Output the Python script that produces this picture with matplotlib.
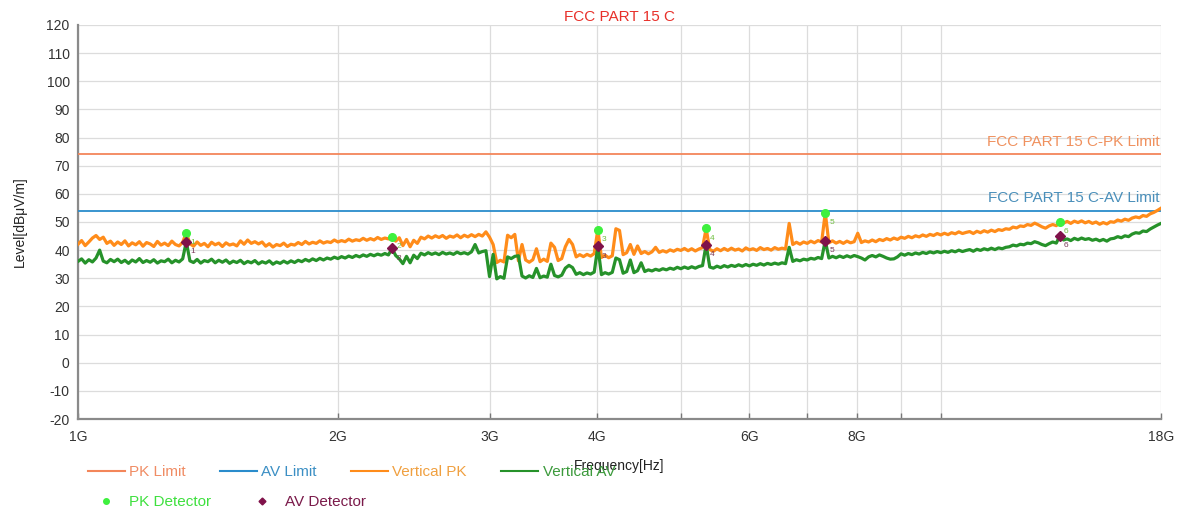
"""
FCC PART 15 C radiated emission sweep, 1 GHz - 18 GHz, vertical polarisation.
Peak / average traces with limit lines and detector readings.
Writes out.png
"""

import numpy as np
import matplotlib

matplotlib.use("Agg")
import matplotlib.pyplot as plt
from matplotlib.lines import Line2D

plt.rcParams["font.family"] = ["Liberation Sans", "DejaVu Sans"]
plt.rcParams["axes.unicode_minus"] = False

# ---- limits (dBuV/m) ----
F_START = 1e9
F_STOP = 18e9
PK_LIMIT = 74.0
AV_LIMIT = 54.0

# ---- sweep traces, 301 log-spaced points from 1 GHz to 18 GHz ----
N_POINTS = 301
vertical_pk = [
    42.1, 43.4, 41.6, 42.9, 44.3, 45.2, 43.8, 44.6, 42.4, 43.2,
    41.7, 42.9, 42.0, 43.3, 41.5, 42.6, 41.9, 43.0, 41.4, 42.7,
    42.2, 41.3, 43.1, 41.8, 42.5, 41.6, 43.2, 42.0, 41.5, 42.8,
    46.2, 42.3, 41.4, 42.9, 41.7, 42.4, 41.2, 42.8, 41.9, 42.5,
    41.3, 42.6, 41.8, 42.2, 41.5, 43.3, 42.1, 43.6, 42.4, 43.0,
    42.2, 42.9, 41.4, 42.3, 41.1, 42.0, 41.6, 42.5, 41.3, 42.1,
    41.8, 42.7, 42.0, 43.1, 42.2, 42.8, 42.4, 43.3, 42.5, 43.0,
    42.7, 43.6, 42.9, 43.4, 43.0, 43.9, 43.2, 43.7, 43.4, 44.2,
    43.5, 44.1, 43.6, 44.5, 43.8, 44.3, 44.0, 44.8, 43.2, 44.4,
    41.6, 43.8, 41.2, 43.5, 42.4, 44.6, 44.0, 45.0, 44.3, 45.1,
    44.5, 45.2, 44.2, 45.0, 44.6, 45.4, 44.4, 45.3, 44.7, 45.5,
    44.8, 45.6, 45.0, 46.5, 44.6, 42.0, 35.6, 36.4, 35.8, 45.3,
    44.4, 45.6, 36.2, 42.0, 36.5, 35.7, 36.6, 40.5, 35.9, 36.8,
    36.0, 42.5, 41.0, 36.3, 37.0, 41.2, 43.8, 42.0, 37.6, 38.4,
    37.7, 38.5, 37.9, 38.8, 47.3, 37.4, 38.2, 37.3, 38.0, 47.6,
    47.0, 38.4, 39.1, 42.0, 38.5, 41.5, 38.8, 39.5, 38.7, 39.4,
    41.0, 39.2, 39.8, 39.3, 40.1, 39.6, 40.3, 39.9, 40.6, 39.8,
    40.5, 39.7, 40.4, 40.9, 47.7, 40.2, 39.6, 40.5, 39.8, 40.6,
    39.9, 40.7, 40.0, 40.4, 39.7, 40.8, 40.1, 40.5, 39.9, 40.9,
    40.2, 40.6, 40.0, 40.9, 40.3, 40.7, 40.4, 49.5, 42.0, 42.8,
    42.1, 42.9, 42.4, 43.2, 42.6, 43.4, 42.9, 53.3, 42.6, 43.3,
    42.5, 43.1, 42.4, 43.2, 42.6, 43.0, 46.0, 42.7, 43.3, 42.9,
    43.6, 43.0, 43.8, 43.4, 44.1, 43.6, 44.3, 43.8, 44.6, 44.2,
    44.9, 44.4, 45.1, 44.7, 45.4, 44.9, 45.6, 45.2, 45.9, 45.4,
    46.0, 45.5, 46.2, 45.8, 46.5, 45.9, 46.3, 46.6, 45.9, 46.7,
    46.2, 46.9, 46.4, 47.1, 46.6, 47.3, 47.0, 47.6, 47.4, 48.2,
    47.9, 48.6, 48.4, 49.1, 48.8, 49.6, 49.0, 48.3, 47.8, 48.6,
    49.1, 48.7, 50.1, 49.6, 50.2, 49.5, 50.3, 49.8, 50.4, 49.7,
    50.2, 49.5, 50.0, 49.2, 49.8, 49.3, 50.1, 49.9, 50.7, 50.3,
    51.0, 50.6, 51.4, 51.8, 51.5, 52.3, 52.0, 52.9, 53.4, 54.1,
    54.9,
]
vertical_av = [
    36.0, 36.9, 35.4, 36.6, 35.8, 37.2, 40.0, 36.1, 35.5, 36.7,
    35.9, 36.8, 35.6, 36.4, 35.3, 36.5, 35.8, 37.0, 35.6, 36.3,
    35.7, 36.6, 35.4, 36.2, 35.9, 36.8, 35.5, 36.4, 35.8, 36.9,
    43.0, 36.2, 35.6, 36.7, 35.4, 36.3, 35.9, 36.8, 35.5, 36.4,
    35.7, 36.5, 35.3, 36.1, 35.6, 36.4, 35.2, 36.0, 35.5, 36.3,
    35.1, 35.9, 35.4, 36.2, 35.0, 35.8, 35.3, 36.1, 35.4, 36.2,
    35.6, 36.4, 35.9, 36.7, 36.1, 36.9, 36.3, 37.1, 36.5, 37.2,
    36.8, 37.5, 37.0, 37.7, 37.2, 37.9, 37.4, 38.1, 37.6, 38.3,
    37.8, 38.5, 38.0, 38.6, 38.2, 38.8, 38.3, 40.6, 38.1, 36.9,
    35.2, 37.8, 35.5, 38.2, 37.0, 38.9, 38.3, 39.1, 38.5, 39.0,
    38.4, 39.2, 38.6, 39.0, 38.5, 39.3, 38.7, 39.1, 38.6, 39.4,
    42.0, 39.0, 39.5, 39.8, 30.6, 38.5, 29.8, 30.6, 30.0, 37.6,
    37.0, 37.8, 38.0, 30.8, 30.1, 30.9, 30.3, 33.5, 30.2, 30.8,
    30.4, 35.0, 31.0, 30.5, 31.1, 33.6, 34.6, 33.8, 31.4, 32.0,
    31.3, 31.9, 31.5, 32.2, 41.3, 31.3, 32.0, 31.5, 32.1, 37.2,
    36.6, 31.8, 32.4, 36.5, 32.0, 32.7, 35.5, 32.4, 33.0, 32.6,
    33.2, 32.8, 33.4, 33.0, 33.6, 33.2, 33.9, 33.4, 34.0, 33.5,
    34.1, 33.6, 34.2, 34.5, 42.0, 34.0, 33.6, 34.3, 33.8, 34.5,
    34.0, 34.6, 34.2, 34.8, 34.3, 34.9, 34.4, 35.0, 34.6, 35.2,
    34.7, 35.3, 34.9, 35.4, 35.0, 35.5, 35.2, 41.0, 36.0, 36.6,
    36.2, 36.8, 36.5, 37.1, 36.8, 37.4, 37.0, 43.4, 37.2, 37.8,
    37.3, 37.9, 37.4, 38.0, 37.5, 38.1, 37.7, 37.2, 36.5, 37.6,
    38.1, 37.6, 38.3, 37.8, 37.2, 36.8, 36.9, 37.6, 38.7, 38.2,
    38.8, 38.4, 39.0, 38.6, 39.2, 38.8, 39.4, 39.0, 39.5, 39.1,
    39.6, 39.2, 39.8, 39.4, 40.0, 39.5, 39.9, 40.2, 39.6, 40.3,
    39.9, 40.5, 40.1, 40.7, 40.2, 40.8, 40.5, 41.0, 41.2, 41.8,
    41.5, 42.1, 41.9, 42.5, 42.3, 43.0, 42.6, 42.0, 41.6, 42.3,
    42.9, 42.5, 45.2, 43.6, 44.0, 43.4, 44.2, 43.7, 44.3, 43.8,
    44.1, 43.5, 43.9, 43.3, 43.8, 43.2, 44.0, 44.2, 44.8, 44.4,
    45.1, 44.8, 45.7, 46.2, 46.0, 46.8, 46.6, 47.5, 48.2, 48.9,
    49.5,
]

# ---- detector readings ----
marker_no = [1, 2, 3, 4, 5, 6]
marker_ghz = [1.335, 2.312, 4.005, 5.346, 7.346, 13.74]
pk_reading = [46.2, 44.8, 47.3, 47.7, 53.3, 50.1]
av_reading = [43.0, 40.6, 41.3, 42.0, 43.4, 45.2]

# ---- axes ticks ----
y_ticks = list(range(-20, 121, 10))
x_grid_ghz = [1, 2, 3, 4, 5, 6, 7, 8, 9, 10, 18]
x_label_ghz = {1: "1G", 2: "2G", 3: "3G", 4: "4G", 6: "6G", 8: "8G", 18: "18G"}

C_PK_LIM = "#f3865a"
C_AV_LIM = "#2a8ccc"
C_PK = "#ff8c1a"
C_AV = "#26922a"
C_PK_DET = "#3ef03e"
C_AV_DET = "#80124a"

freq = np.geomspace(F_START, F_STOP, N_POINTS)
mk_hz = np.array(marker_ghz) * 1e9

fig = plt.figure(figsize=(11.87, 5.14), dpi=100)
ax = fig.add_axes([0.0657, 0.1848, 0.9124, 0.7666])

ax.plot([F_START, F_STOP], [AV_LIMIT, AV_LIMIT], color=C_AV_LIM, lw=1.3, zorder=3)
ax.plot([F_START, F_STOP], [PK_LIMIT, PK_LIMIT], color=C_PK_LIM, lw=1.3, zorder=3)
ax.plot(freq, vertical_pk, color=C_PK, lw=2.3, zorder=4)
ax.plot(freq, vertical_av, color=C_AV, lw=2.3, zorder=5)

ax.plot(mk_hz, pk_reading, ls="none", marker="o", ms=5.5, color=C_PK_DET, zorder=7)
ax.plot(mk_hz, av_reading, ls="none", marker="D", ms=5, color=C_AV_DET, zorder=7)
for n, f, p, a in zip(marker_no, mk_hz, pk_reading, av_reading):
    ax.annotate(str(n), (f, p), xytext=(3, -8), textcoords="offset points",
                fontsize=6, color="#6fbf3f", zorder=8)
    ax.annotate(str(n), (f, a), xytext=(3, -8), textcoords="offset points",
                fontsize=6, color="#7a3a5a", zorder=8)

ax.annotate("FCC PART 15 C-PK Limit", (F_STOP, PK_LIMIT), xytext=(-1, 4),
            textcoords="offset points", ha="right", va="bottom",
            fontsize=11, color="#f0915e")
ax.annotate("FCC PART 15 C-AV Limit", (F_STOP, AV_LIMIT), xytext=(-1, 4),
            textcoords="offset points", ha="right", va="bottom",
            fontsize=11, color="#4a8fba")

ax.set_xscale("log")
ax.set_xlim(F_START, F_STOP)
ax.set_ylim(-20, 120)
ax.set_yticks(y_ticks)
ax.set_xticks([g * 1e9 for g in x_grid_ghz])
ax.set_xticklabels([x_label_ghz.get(g, "") for g in x_grid_ghz])
ax.xaxis.set_minor_locator(matplotlib.ticker.NullLocator())
ax.tick_params(axis="x", direction="in", length=4, width=1, color="#777777",
               labelsize=10, pad=8, labelcolor="#333333")
ax.tick_params(axis="y", length=0, labelsize=10, pad=6, labelcolor="#333333")
ax.grid(True, color="#dcdcdc", lw=0.9)
ax.set_axisbelow(True)
for side in ("top", "right"):
    ax.spines[side].set_visible(False)
for side in ("left", "bottom"):
    ax.spines[side].set_color("#8a8a8a")
    ax.spines[side].set_linewidth(1.6)

ax.set_title("FCC PART 15 C", color="#e8302a", fontsize=11, pad=3)
ax.set_ylabel("Level[dB\u03bcV/m]", fontsize=10, labelpad=14, color="#222222")
ax.set_xlabel("Frequency[Hz]", fontsize=10, labelpad=11, color="#222222")

row1 = [
    Line2D([], [], color=C_PK_LIM, lw=1.5),
    Line2D([], [], color=C_AV_LIM, lw=1.5),
    Line2D([], [], color=C_PK, lw=1.5),
    Line2D([], [], color=C_AV, lw=1.5),
]
row1_txt = ["PK Limit", "AV Limit", "Vertical PK", "Vertical AV"]
row1_col = ["#f08c64", "#3b8fc4", "#f0a040", "#3c9a3c"]
leg1 = fig.legend(row1, row1_txt, loc="center left", bbox_to_anchor=(0.074, 1 - 472 / 514),
                  ncol=4, frameon=False, fontsize=11, handlelength=2.4,
                  handletextpad=0.3, columnspacing=2.25, borderaxespad=0, borderpad=0)
for t, c in zip(leg1.get_texts(), row1_col):
    t.set_color(c)

row2 = [
    Line2D([], [], ls="none", marker="o", ms=4, color=C_PK_DET),
    Line2D([], [], ls="none", marker="D", ms=3.5, color=C_AV_DET),
]
row2_txt = ["PK Detector", "AV Detector"]
row2_col = ["#3ee03e", "#7a1a4a"]
leg2 = fig.legend(row2, row2_txt, loc="center left", bbox_to_anchor=(0.074, 1 - 502 / 514),
                  ncol=2, frameon=False, fontsize=11, handlelength=2.4,
                  handletextpad=0.3, columnspacing=2.1, borderaxespad=0, borderpad=0)
for t, c in zip(leg2.get_texts(), row2_col):
    t.set_color(c)

fig.savefig("out.png", dpi=100)
